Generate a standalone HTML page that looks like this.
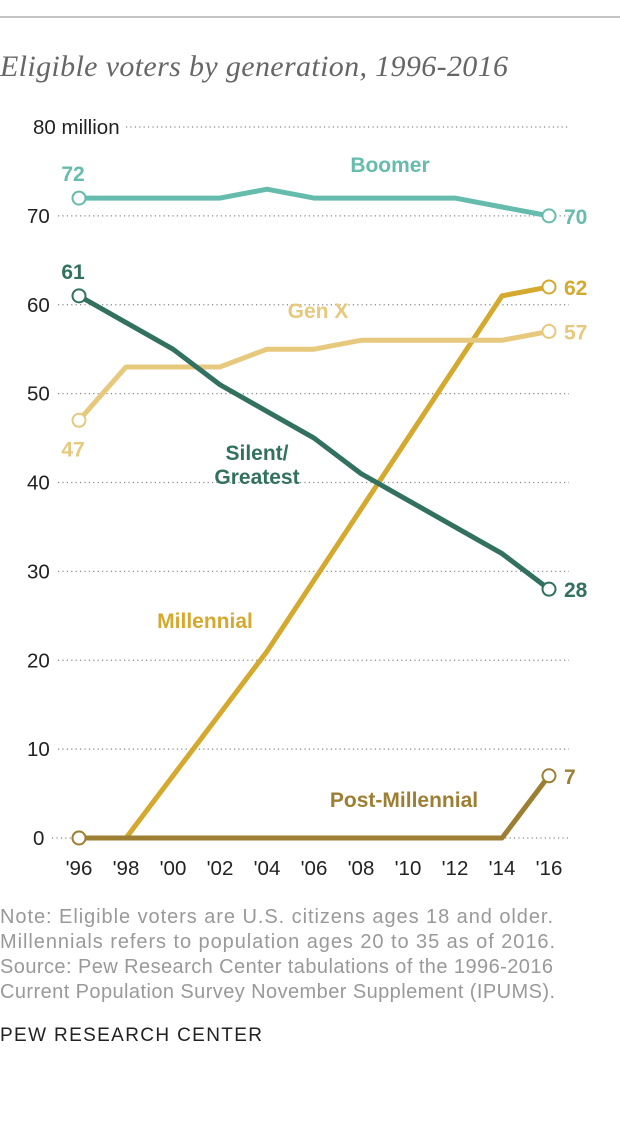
<!DOCTYPE html>
<html><head><meta charset="utf-8"><style>
body{margin:0;background:#fff;width:620px;height:1120px;overflow:hidden;font-family:"Liberation Sans",sans-serif}
</style></head><body>
<svg width="620" height="1120" id="chart">
<line x1="0" y1="17" x2="620" y2="17" stroke="#888" stroke-width="1"/>
<text x="0" y="76" font-family="Liberation Serif,serif" font-style="italic" font-size="30" fill="#666" textLength="508">Eligible voters by generation, 1996-2016</text>
<g id="grid"></g><g id="series"></g><g id="xaxis"></g>
<g font-size="20" fill="#999">
<text x="0" y="923" textLength="553">Note: Eligible voters are U.S. citizens ages 18 and older.</text>
<text x="0" y="948" textLength="555">Millennials refers to population ages 20 to 35 as of 2016.</text>
<text x="0" y="973" textLength="553">Source: Pew Research Center tabulations of the 1996-2016</text>
<text x="0" y="998" textLength="555">Current Population Survey November Supplement (IPUMS).</text>
</g>
<text x="0" y="1041" font-size="19" fill="#222" textLength="262">PEW RESEARCH CENTER</text>
</svg>
<script>
const years=["'96","'98","'00","'02","'04","'06","'08","'10","'12","'14","'16"];
const yTicks=[0,10,20,30,40,50,60,70,80];
const boomer=[72,72,72,72,73,72,72,72,72,71,70];
const silent=[61,58,55,51,48,45,41,38,35,32,28];
const genx=[47,53,53,53,55,55,56,56,56,56,57];
const millennial=[0,0,7,14,21,29,37,45,53,61,62];
const postMillennial=[0,0,0,0,0,0,0,0,0,0,7];
const NS="http://www.w3.org/2000/svg";
const x=i=>79+i*47;
const y=v=>838-v*8.8875;
function mk(tag,attrs,parent,txt){const e=document.createElementNS(NS,tag);for(const k in attrs)e.setAttribute(k,attrs[k]);if(txt!==undefined)e.textContent=txt;parent.appendChild(e);return e;}
const grid=document.getElementById('grid');
yTicks.forEach(t=>{
 const lbl=t===80?'80 million':String(t);
 const lx=t===80?126:(t===0?52:58);
 const l=mk('line',{x1:lx,y1:y(t),x2:569,y2:y(t),stroke:'#888','stroke-width':1.2,'stroke-dasharray':'1.2 3.2'},grid);
 
 
 const tx=mk('text',{x:t===80?33:(t===0?33:27),y:y(t)+7,'font-size':20.5,fill:'#222'},grid,lbl);
 
 
});
const xa=document.getElementById('xaxis');
years.forEach((yr,i)=>{const t=mk('text',{x:x(i),y:875,'font-size':20.5,fill:'#222','text-anchor':'middle'},xa,yr);
 
 });
const S=document.getElementById('series');
function series(name,data,color,startLbl,endLbl,label,lx,ly,lanchor){
 const g=mk('g',{},S);
 
 
 const pts=data.map((v,i)=>x(i)+','+y(v)).join(' ');
 const p=mk('polyline',{points:pts,fill:'none',stroke:color,'stroke-width':5,'stroke-linejoin':'round'},g);
 
 
 [0,data.length-1].forEach(i=>{const c=mk('circle',{cx:x(i),cy:y(data[i]),r:6.5,fill:'#fff',stroke:color,'stroke-width':2},g);
  
  });
 if(startLbl){const t=mk('text',{x:x(0)-6,y:y(data[0])+startLbl,'font-size':21,'font-weight':'bold',fill:color,'text-anchor':'middle'},g,data[0]);
  
  }
 const e=mk('text',{x:x(data.length-1)+15,y:y(data[data.length-1])+8+endLbl,'font-size':21,'font-weight':'bold',fill:color},g,data[data.length-1]);
 
 
 label.forEach((ln,k)=>{const t=mk('text',{x:lx,y:ly+k*24,'font-size':21,'font-weight':'bold',fill:color,'text-anchor':lanchor},g,ln);
  
  });
}
series('millennial',millennial,'#d4a92e',0,0,['Millennial'],205,628,'middle');
series('post-millennial',postMillennial,'#9c7f33',0,0,['Post-Millennial'],404,807,'middle');
series('genx',genx,'#e6c97d',36,0,['Gen X'],318,318,'middle');
series('silent',silent,'#32715f',-17,0,['Silent/','Greatest'],257,460,'middle');
series('boomer',boomer,'#66bcac',-17,0,['Boomer'],390,172,'middle');
</script>
</body></html>
